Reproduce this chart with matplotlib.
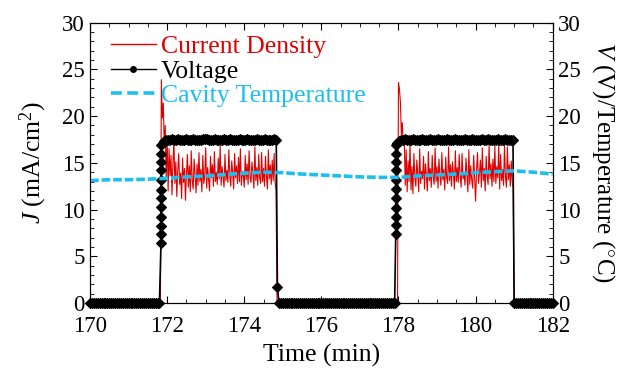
import numpy as np
import matplotlib
matplotlib.use("Agg")
from matplotlib import pyplot as plt
from matplotlib.lines import Line2D

plt.rcParams['font.family'] = ['Liberation Serif', 'DejaVu Serif']
plt.rcParams['mathtext.fontset'] = 'custom'
plt.rcParams['mathtext.rm'] = 'Liberation Serif'
plt.rcParams['mathtext.it'] = 'Liberation Serif:italic'

RED = '#e00000'
CYAN = '#1cbff0'
CUR_STEP = 0.025   # current logger sampling (min)
VOLT_STEP = 0.05   # voltage logger sampling (min)

# ---- current density (mA/cm2), left axis ----
cur_off1_start = 170.0
cur_off1 = [0.0] * 74
cur_on1_start = 171.85
cur_on1 = [23.9, 19.8, 21.4, 16.8, 19.0, 13.2, 17.8, 12.0, 16.5, 13.6,
           15.8, 11.6, 14.9, 17.4, 12.8, 15.1, 11.4, 14.2, 16.0, 12.7,
           13.9, 11.2, 15.5, 12.9, 14.4, 11.0, 13.8, 15.9, 12.4, 14.7,
           11.9, 16.3, 13.1, 12.2, 15.4, 13.7, 11.8, 14.9, 12.6, 16.1,
           13.0, 14.3, 11.9, 15.8, 12.8, 13.6, 16.6, 12.3, 14.5, 13.2,
           12.0, 15.7, 13.4, 14.8, 12.5, 16.2, 13.0, 14.0, 12.7, 15.5,
           13.3, 16.8, 12.6, 14.6, 13.5, 12.4, 15.9, 13.1, 14.2, 12.9,
           16.4, 13.6, 12.5, 15.2, 13.9, 12.2, 16.0, 13.4, 14.7, 12.8,
           15.6, 13.0, 16.5, 12.6, 14.1, 13.7, 12.4, 15.8, 13.2, 14.9,
           12.7, 16.3, 13.5, 12.9, 15.1, 13.8, 12.3, 16.7, 13.1, 14.5,
           12.6, 15.9, 13.4, 12.8, 16.1, 13.0, 14.4, 12.5, 15.7, 13.6,
           12.2, 16.4, 13.3, 14.8, 12.7, 15.3, 13.1, 16.0, 12.9, 12.1]
cur_off2_start = 174.85
cur_off2 = [0.0] * 126
cur_on2_start = 178.0
cur_on2 = [23.6, 22.9, 21.5, 18.0, 19.3, 16.9, 17.8, 12.6, 16.4, 11.9,
           15.2, 13.0, 17.1, 12.1, 14.6, 11.7, 16.0, 13.4, 12.5, 15.3,
           13.8, 11.9, 16.5, 12.8, 14.1, 13.3, 15.7, 12.2, 14.9, 13.6,
           12.0, 16.2, 13.1, 14.4, 12.4, 15.8, 13.5, 12.7, 16.6, 13.0,
           14.6, 12.3, 15.4, 13.7, 12.6, 16.1, 13.2, 14.3, 12.1, 15.6,
           13.4, 12.8, 16.7, 13.1, 14.8, 12.5, 15.1, 13.9, 12.2, 16.3,
           13.0, 14.5, 12.9, 15.9, 13.6, 12.4, 16.0, 13.3, 14.0, 12.6,
           15.5, 13.8, 11.9, 16.4, 12.7, 14.7, 13.2, 12.3, 15.8, 13.5,
           10.9, 14.2, 16.1, 12.8, 13.9, 15.3, 12.4, 16.6, 13.1, 14.4,
           12.0, 15.7, 13.6, 12.7, 16.9, 13.3, 14.9, 12.5, 15.4, 13.0,
           16.8, 12.8, 14.6, 13.4, 17.0, 12.2, 15.9, 13.1, 14.3, 12.6,
           16.9, 13.5, 12.4, 16.7, 13.2, 14.8, 12.5, 15.2, 12.9, 12.4]
cur_off3_start = 181.0
cur_off3 = [0.0] * 41

# ---- voltage (V), right axis ----
volt_off1_start = 170.0
volt_off1 = [0.0] * 37
volt_ramp1_time = 171.84
volt_ramp1 = [6.4, 7.4, 8.2, 9.2, 10.3, 11.2, 12.1, 13.2, 14.2, 15.1, 16.0, 16.9]
volt_on1_start = 171.88
volt_on1 = [17.1, 17.3, 17.4, 17.4, 17.4, 17.5, 17.4, 17.4, 17.5, 17.4,
            17.4, 17.4, 17.5, 17.4, 17.4, 17.4, 17.5, 17.4, 17.4, 17.4,
            17.4, 17.5, 17.5, 17.6, 17.4, 17.4, 17.4, 17.5, 17.4, 17.4,
            17.4, 17.4, 17.5, 17.4, 17.4, 17.5, 17.4, 17.4, 17.4, 17.4,
            17.5, 17.4, 17.4, 17.4, 17.5, 17.4, 17.4, 17.4, 17.4, 17.5,
            17.4, 17.4, 17.4, 17.5, 17.4, 17.4, 17.4, 17.4, 17.5, 17.4]
volt_drop1_time = 174.86
volt_drop1 = [1.7]
volt_off2_start = 174.90
volt_off2 = [0.0] * 61
volt_ramp2_time = 177.93
volt_ramp2 = [7.4, 8.4, 9.2, 10.2, 11.2, 12.2, 13.2, 14.2, 15.1, 16.0, 16.9]
volt_on2_start = 177.97
volt_on2 = [17.1, 17.3, 17.4, 17.4, 17.5, 17.4, 17.4, 17.4, 17.5, 17.4,
            17.4, 17.4, 17.4, 17.5, 17.4, 17.4, 17.4, 17.5, 17.4, 17.4,
            17.4, 17.5, 17.4, 17.4, 17.4, 17.4, 17.5, 17.4, 17.4, 17.4,
            17.5, 17.4, 17.4, 17.4, 17.4, 17.5, 17.4, 17.4, 17.4, 17.5,
            17.4, 17.4, 17.4, 17.4, 17.5, 17.4, 17.4, 17.5, 17.4, 17.4,
            17.4, 17.4, 17.5, 17.4, 17.4, 17.4, 17.5, 17.4, 17.4, 17.4, 17.4]
volt_off3_start = 181.0
volt_off3 = [0.0] * 21

# ---- cavity temperature (degC), right axis ----
temp_time = [170.0, 170.5, 171.0, 171.5, 172.0, 172.5, 173.0, 173.5, 174.0,
             174.5, 175.0, 175.5, 176.0, 176.5, 177.0, 177.5, 178.0, 178.5,
             179.0, 179.5, 180.0, 180.5, 181.0, 181.5, 182.0]
temp_val = [13.1, 13.2, 13.2, 13.25, 13.35, 13.5, 13.6, 13.75, 13.9,
            14.0, 13.95, 13.8, 13.7, 13.6, 13.5, 13.45, 13.45, 13.6,
            13.7, 13.8, 13.95, 14.05, 14.15, 14.0, 13.8]


def on_grid(t0, values, step):
    return t0 + step * np.arange(len(values))


cur_t = np.concatenate([on_grid(cur_off1_start, cur_off1, CUR_STEP),
                        on_grid(cur_on1_start, cur_on1, CUR_STEP),
                        on_grid(cur_off2_start, cur_off2, CUR_STEP),
                        on_grid(cur_on2_start, cur_on2, CUR_STEP),
                        on_grid(cur_off3_start, cur_off3, CUR_STEP)])
cur_y = np.concatenate([cur_off1, cur_on1, cur_off2, cur_on2, cur_off3])

volt_t = np.concatenate([on_grid(volt_off1_start, volt_off1, VOLT_STEP),
                         np.full(len(volt_ramp1), volt_ramp1_time),
                         on_grid(volt_on1_start, volt_on1, VOLT_STEP),
                         np.full(len(volt_drop1), volt_drop1_time),
                         on_grid(volt_off2_start, volt_off2, VOLT_STEP),
                         np.full(len(volt_ramp2), volt_ramp2_time),
                         on_grid(volt_on2_start, volt_on2, VOLT_STEP),
                         on_grid(volt_off3_start, volt_off3, VOLT_STEP)])
volt_y = np.concatenate([volt_off1, volt_ramp1, volt_on1, volt_drop1, volt_off2,
                         volt_ramp2, volt_on2, volt_off3])

fig = plt.figure(figsize=(6.21, 3.71), dpi=100)
ax1 = fig.add_axes([0.145, 0.183, 0.745, 0.756])
ax2 = ax1.twinx()

ax1.plot(cur_t, cur_y, color=RED, lw=0.8)
ax2.plot(volt_t, volt_y, color='black', lw=1.2, marker='D', ms=5, mew=0.8,
         clip_on=False)
ax2.plot(temp_time, temp_val, color=CYAN, lw=2.6, ls=(0, (2.4, 0.8)))

for ax in (ax1, ax2):
    ax.set_xlim(170, 182)
    ax.set_ylim(0, 30)
    ax.set_yticks(np.arange(0, 31, 5))
    ax.set_yticks(np.arange(0, 31, 1), minor=True)
    ax.tick_params(which='both', direction='in', labelsize=16.5, pad=4)
    ax.tick_params(which='major', length=5)
    ax.tick_params(which='minor', length=3)
ax1.set_xticks(np.arange(170, 183, 2))
ax1.set_xticks(np.arange(170, 182.01, 0.5), minor=True)
ax1.tick_params(axis='x', which='both', top=True, pad=9)

ax1.set_xlabel('Time (min)', fontsize=18.5, labelpad=5)
ax1.set_ylabel('$J$ (mA/cm$^2$)', fontsize=18.5, labelpad=9)
ax2.set_ylabel('$V$ (V)/Temperature ($^{\\circ}$C)', fontsize=18, rotation=270, labelpad=26)

handles = [Line2D([], [], color=RED, lw=1.0),
           Line2D([], [], color='black', lw=1.0, marker='o', ms=4),
           Line2D([], [], color=CYAN, lw=2.6, ls=(0, (3.0, 1.5)))]
labels = ['Current Density', 'Voltage', 'Cavity Temperature']
leg = ax2.legend(handles, labels, loc='upper left', bbox_to_anchor=(0.045, 0.955),
                 frameon=False, fontsize=18.5, labelspacing=0.06, handlelength=1.75,
                 handletextpad=0.2, borderpad=0, borderaxespad=0, numpoints=1)
for txt, c in zip(leg.get_texts(), [RED, 'black', CYAN]):
    txt.set_color(c)

fig.savefig('out.png', dpi=100)
